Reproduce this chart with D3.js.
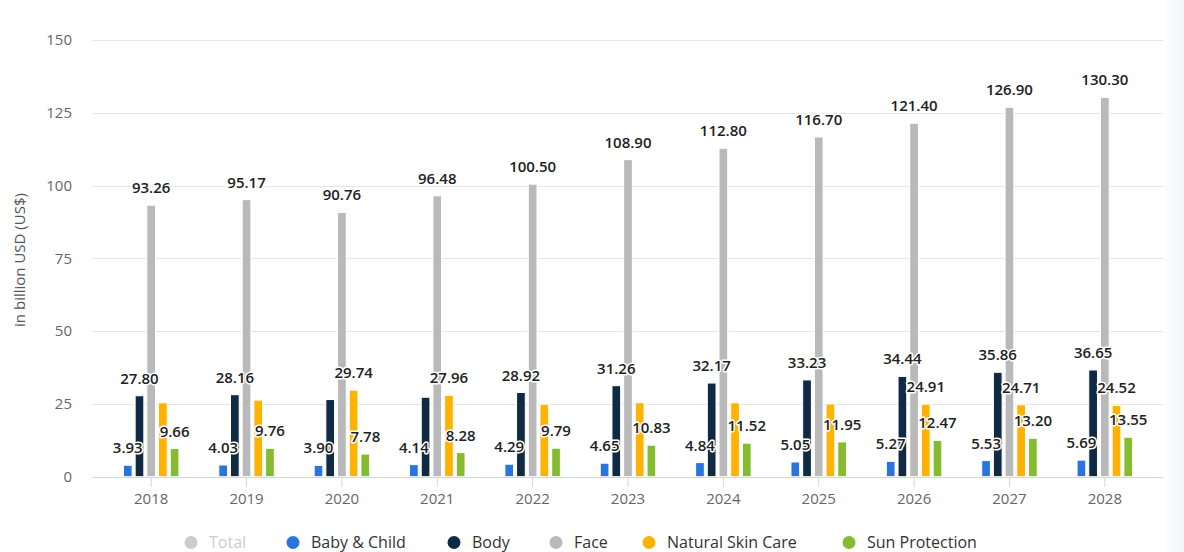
<!DOCTYPE html>
<html>
<head>
<meta charset="utf-8">
<script src="https://cdn.jsdelivr.net/npm/d3@7"></script>
<style>
  html, body { margin: 0; padding: 0; background: #fff; }
  svg { display: block; font-family: "Open Sans", "DejaVu Sans", sans-serif; }
</style>
</head>
<body>
<svg id="chart" width="1184" height="552"></svg>
<script>
// ---- data ----
const years = ["2018","2019","2020","2021","2022","2023","2024","2025","2026","2027","2028"];
const seriesNames = ["Baby & Child","Body","Face","Natural Skin Care","Sun Protection"];
const babyChild = [3.93, 4.03, 3.90, 4.14, 4.29, 4.65, 4.84, 5.05, 5.27, 5.53, 5.69];
const bodyCare  = [27.80, 28.16, 26.5, 27.3, 28.92, 31.26, 32.17, 33.23, 34.44, 35.86, 36.65];
const face      = [93.26, 95.17, 90.76, 96.48, 100.50, 108.90, 112.80, 116.70, 121.40, 126.90, 130.30];
const natural   = [25.4, 26.3, 29.74, 27.96, 24.9, 25.4, 25.4, 25.0, 24.91, 24.71, 24.52];
const sun       = [9.66, 9.76, 7.78, 8.28, 9.79, 10.83, 11.52, 11.95, 12.47, 13.20, 13.55];
// which data labels are visible (others hidden by overlap in the original)
const babyLabelShown    = [1,1,1,1,1,1,1,1,1,1,1];
const bodyLabelShown    = [1,1,0,0,1,1,1,1,1,1,1];
const faceLabelShown    = [1,1,1,1,1,1,1,1,1,1,1];
const naturalLabelShown = [0,0,1,1,0,0,0,0,1,1,1];
const sunLabelShown     = [1,1,1,1,1,1,1,1,1,1,1];
const yTicks = [0, 25, 50, 75, 100, 125, 150];
const legendNames = ["Total","Baby & Child","Body","Face","Natural Skin Care","Sun Protection"];

const seriesValues = [babyChild, bodyCare, face, natural, sun];
const seriesShown = [babyLabelShown, bodyLabelShown, faceLabelShown, naturalLabelShown, sunLabelShown];
const colors = ["#2876dd", "#0f2a42", "#b9b9b9", "#ffb300", "#85bb2f"];
const legendColors = ["#cccccc", ...colors];

// ---- layout ----
const svg = d3.select("#chart");
const plotLeft = 92, plotRight = 1163;
const y = d3.scaleLinear().domain([0, 150]).range([476.7, 40]);
const x0 = d3.scaleBand().domain(years).range([103.5, 1152.5]).paddingInner(0).paddingOuter(0);
const groupW = 55.5;
const x1 = d3.scaleBand().domain(seriesNames).range([0, groupW]).paddingInner(0.256).paddingOuter(0);

// right-edge shade
const defs = svg.append("defs");
const grad = defs.append("linearGradient").attr("id","shade").attr("x1","0").attr("x2","1");
grad.append("stop").attr("offset","0").attr("stop-color","#ffffff");
grad.append("stop").attr("offset","1").attr("stop-color","#f3f4f6");
svg.append("rect").attr("x",1164).attr("y",0).attr("width",20).attr("height",552).attr("fill","url(#shade)");

// gridlines
svg.append("g").selectAll("line").data(yTicks.filter(t => t > 0)).join("line")
  .attr("x1", plotLeft).attr("x2", plotRight)
  .attr("y1", d => Math.round(y(d)) + 0.5).attr("y2", d => Math.round(y(d)) + 0.5)
  .attr("stroke", "#e6e6e6").attr("stroke-width", 1);

// y axis labels
const yAxis = d3.axisLeft(y).tickValues(yTicks).tickSize(0).tickPadding(0);
const yg = svg.append("g").attr("transform", "translate(72,0)").call(yAxis);
yg.select(".domain").remove();
yg.selectAll("text").attr("font-size", 15).attr("fill", "#666").attr("font-family", "Open Sans, sans-serif");

// y axis title
svg.append("text")
  .attr("transform", "translate(25,260) rotate(-90)")
  .attr("text-anchor", "middle")
  .attr("font-size", 15).attr("fill", "#555")
  .text("in billion USD (US$)");

// bars
const groups = svg.append("g").selectAll("g").data(years).join("g")
  .attr("transform", d => `translate(${x0(d) + x0.bandwidth()/2 - groupW/2},0)`);

groups.each(function(year, i) {
  const g = d3.select(this);
  seriesNames.forEach((s, k) => {
    const v = seriesValues[k][i];
    g.append("rect")
      .attr("x", x1(s)).attr("width", x1.bandwidth())
      .attr("y", y(v)).attr("height", y(0) - y(v))
      .attr("fill", colors[k]).attr("stroke", "#ffffff").attr("stroke-width", 1);
  });
});

// x axis baseline and ticks
svg.append("line").attr("x1", plotLeft).attr("x2", plotRight)
  .attr("y1", 477.5).attr("y2", 477.5).attr("stroke", "#ccd6eb").attr("stroke-width", 1);
const xAxis = d3.axisBottom(x0).tickSize(10).tickPadding(6);
const xg = svg.append("g").attr("transform", "translate(0,477)").call(xAxis);
xg.select(".domain").remove();
xg.selectAll(".tick line").attr("stroke", "#ccd6eb");
xg.selectAll("text").attr("font-size", 15).attr("fill", "#666").attr("font-family", "Open Sans, sans-serif");

// data labels
const labels = svg.append("g");
groups.each(function(year, i) {
  const gx = x0(year) + x0.bandwidth()/2 - groupW/2;
  seriesNames.forEach((s, k) => {
    if (!seriesShown[k][i]) return;
    const v = seriesValues[k][i];
    labels.append("text")
      .attr("x", gx + x1(s) + x1.bandwidth()/2)
      .attr("y", y(v) - 12)
      .attr("text-anchor", "middle")
      .attr("font-size", 15).attr("font-weight", 600)
      .attr("fill", "#222")
      .attr("stroke", "#ffffff").attr("stroke-width", 3).attr("stroke-linejoin", "round")
      .attr("paint-order", "stroke")
      .text(v.toFixed(2));
  });
});

// legend
const legendX = [191, 293, 454, 556, 649, 849];
const lg = svg.append("g");
legendNames.forEach((n, i) => {
  lg.append("circle").attr("cx", legendX[i]).attr("cy", 542.5).attr("r", 6.5).attr("fill", legendColors[i]);
  lg.append("text").attr("x", legendX[i] + 18).attr("y", 547.5)
    .attr("font-size", 16).attr("fill", i === 0 ? "#cccccc" : "#333")
    .text(n);
});
</script>
</body>
</html>
